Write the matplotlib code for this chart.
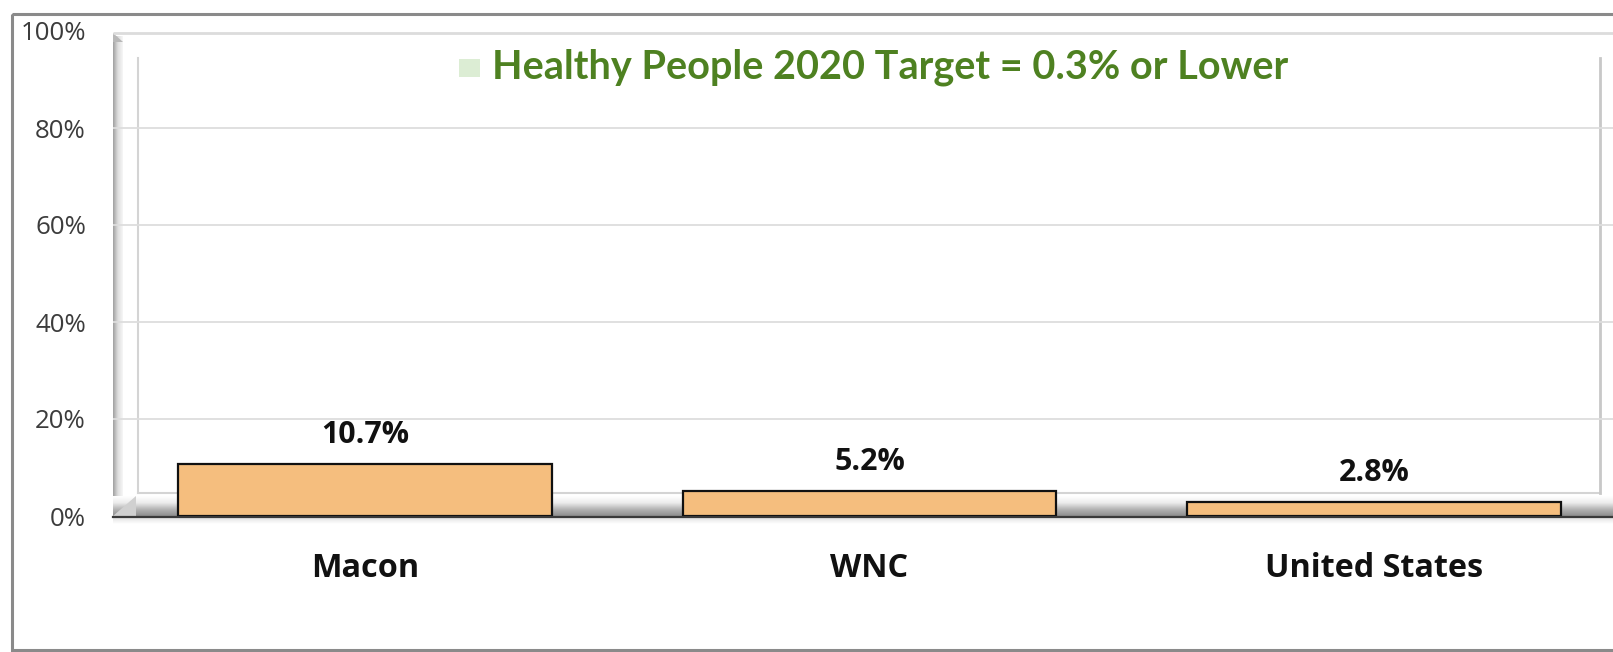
import numpy as np
import matplotlib
matplotlib.use("Agg")
import matplotlib.pyplot as plt
from matplotlib.patches import Rectangle, Polygon

# ---- data ----
categories = ["Macon", "WNC", "United States"]
values = [0.107, 0.052, 0.028]
value_labels = ["10.7%", "5.2%", "2.8%"]
y_ticks = [0.0, 0.2, 0.4, 0.6, 0.8, 1.0]
y_tick_labels = ["0%", "20%", "40%", "60%", "80%", "100%"]
legend_text = "Healthy People 2020 Target = 0.3% or Lower"

W, H = 1613, 652
DPI = 100
plt.rcParams['font.family'] = ['Lato', 'DejaVu Sans']
SEG = ['Open Sans', 'DejaVu Sans']

fig = plt.figure(figsize=(W / DPI, H / DPI), dpi=DPI)
fig.patch.set_facecolor('white')


def fit(txt, target_px, size0):
    fig.canvas.draw()
    w = txt.get_window_extent().width
    return size0 * target_px / w


# ---- decoration axes in pixel coordinates ----
deco = fig.add_axes([0, 0, 1, 1], zorder=0)
deco.set_xlim(0, W)
deco.set_ylim(H, 0)
deco.axis('off')

# outer chart border
deco.add_patch(Rectangle((12, 14), 1640, 636, fill=False, edgecolor='#8a8a8a', lw=2.2))

# top edge of the 3D box
deco.plot([113, W], [33, 33], color='#dcdcdc', lw=2.0, solid_capstyle='butt')

# left wall gradient
grad = np.linspace(0, 1, 64).reshape(1, -1)
deco.imshow(grad, extent=[113, 123, 516, 36], cmap=matplotlib.colors.LinearSegmentedColormap.from_list(
    'w', ['#a0a0a0', '#dedede', '#f7f7f7']), aspect='auto', zorder=1)
deco.add_patch(Polygon([[113, 33], [123, 42], [113, 42]], closed=True,
                       facecolor='#b8b8b8', edgecolor='none', zorder=1))

# back plane lines
deco.plot([138, 138], [58, 493], color='#d4d4d4', lw=1.5)
deco.plot([138, 1600], [493, 493], color='#d4d4d4', lw=1.5)
deco.plot([1600, 1600], [58, 493], color='#c8c8c8', lw=2.0)

# floor gradient
fgrad = np.linspace(0, 1, 64).reshape(-1, 1)
deco.imshow(fgrad, extent=[113, W, 516, 496], cmap=matplotlib.colors.LinearSegmentedColormap.from_list(
    'f', ['#ffffff', '#ececec', '#b4b4b4', '#8e8e8e']), aspect='auto', origin='upper', zorder=1)
deco.add_patch(Polygon([[113, 516], [136, 496], [136, 516]], closed=True,
                       facecolor='#d0d0d0', edgecolor='none', zorder=1))
deco.plot([113, W], [516.5, 516.5], color='#3a3a3a', lw=1.6, zorder=2)
deco.imshow(np.linspace(0, 1, 32).reshape(-1, 1), extent=[113, W, 524, 517],
            cmap=matplotlib.colors.LinearSegmentedColormap.from_list('s', ['#e0e0e0', '#ffffff']),
            aspect='auto', origin='upper', zorder=1)

# legend square + text
deco.add_patch(Rectangle((459, 59), 21, 18, facecolor='#dcedd4', edgecolor='none'))
lt = deco.text(492, 67, legend_text, color='#4e8121', fontweight='bold',
               fontsize=26, va='center', ha='left')
lt.set_fontsize(fit(lt, 796.0, 26))

# ---- main data axes ----
x_left_px, x_right_px = 113, W
y0_px, y100_px = 516, 31
ax = fig.add_axes([x_left_px / W, (H - y0_px) / H, (x_right_px - x_left_px) / W,
                   (y0_px - y100_px) / H], zorder=2)
ax.patch.set_alpha(0)
spacing = 504.5
ax.set_xlim(-(365 - x_left_px) / spacing, 2 + (x_right_px - 1374) / spacing)
ax.set_ylim(0, 1)

for t in y_ticks[1:-1]:
    ax.axhline(t, color='#dddddd', lw=1.3, zorder=0)

x = np.arange(len(categories))
bars = ax.bar(x, values, width=0.741, color='#f5be7e', edgecolor='#111111', linewidth=1.6, zorder=3)
anns = []
for xi, v, lab in zip(x, values, value_labels):
    anns.append(ax.annotate(lab, (xi, v), xytext=(0, 21), textcoords='offset points',
                            ha='center', va='center', fontsize=19, fontweight='bold',
                            color='#111111', family=SEG))
s = fit(anns[0], 88.0, 19)
for a in anns:
    a.set_fontsize(s)

ax.set_xticks(x)
ax.set_xticklabels(categories, fontsize=20, fontweight='bold', color='#111111', family=SEG)
ax.set_yticks(y_ticks)
ax.set_yticklabels(y_tick_labels, fontsize=16, color='#3c3c3c', family=SEG)
ax.tick_params(axis='x', length=0, pad=26)
ax.tick_params(axis='y', length=0, pad=19.5)
for sp in ax.spines.values():
    sp.set_visible(False)

xs = fit(ax.get_xticklabels()[0], 108.0, 20)
for t in ax.get_xticklabels():
    t.set_fontsize(xs)
ys = fit(ax.get_yticklabels()[4], 51.0, 16)
for t in ax.get_yticklabels():
    t.set_fontsize(ys)

fig.savefig('out.png', dpi=DPI, facecolor='white')
